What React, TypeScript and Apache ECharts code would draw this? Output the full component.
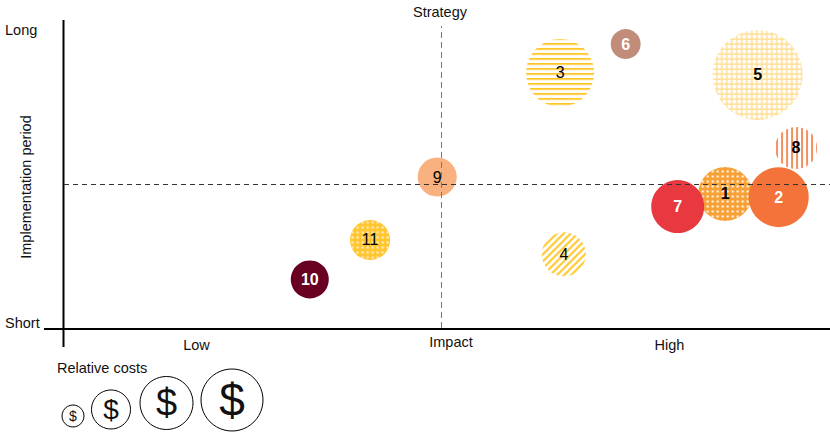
import React, { useEffect, useRef } from 'react';
import * as echarts from 'echarts';

// ---- data ----
const ids = ['1', '2', '3', '4', '5', '6', '7', '8', '9', '10', '11'];
const impact = [8.77, 9.48, 6.58, 6.63, 9.2, 7.45, 8.14, 9.71, 4.95, 3.26, 4.06];
const period = [4.66, 4.55, 8.87, 2.56, 8.8, 9.87, 4.22, 6.26, 5.25, 1.69, 3.06];
const relativeCost = [5.4, 6.0, 6.8, 4.4, 9.0, 3.0, 5.3, 4.2, 3.9, 3.8, 4.0];
const xTickLabels = ['Low', 'Impact', 'High'];
const yTickLabels = ['Short', 'Long'];
const legendCostLevels = ['$', '$', '$', '$'];

const FONT = "'Liberation Sans', Arial, Helvetica, sans-serif";
const SIZE_SCALE = 10;

function makeCanvas(w: number, h: number, draw: (ctx: CanvasRenderingContext2D) => void) {
  const c = document.createElement('canvas');
  c.width = w;
  c.height = h;
  const ctx = c.getContext('2d')!;
  draw(ctx);
  return c;
}
// scatter symbols are unit paths scaled by size/2, so the pattern is scaled back
function pat(c: HTMLCanvasElement, symbolSize: number) {
  const s = 2 / symbolSize;
  return { image: c, repeat: 'repeat', imageWidth: c.width, imageHeight: c.height, scaleX: s, scaleY: s } as any;
}
const dots = (bg: string) => (size: number) =>
  pat(makeCanvas(5, 5, (ctx) => {
    ctx.fillStyle = bg;
    ctx.fillRect(0, 0, 5, 5);
    ctx.fillStyle = '#ffffff';
    ctx.fillRect(1.5, 1.5, 2, 2);
  }), size);
const hStripes = (fg: string) => (size: number) =>
  pat(makeCanvas(5, 5, (ctx) => {
    ctx.fillStyle = '#ffffff';
    ctx.fillRect(0, 0, 5, 5);
    ctx.fillStyle = fg;
    ctx.fillRect(0, 0, 5, 2);
  }), size);
const vStripes = (fg: string) => (size: number) =>
  pat(makeCanvas(5, 5, (ctx) => {
    ctx.fillStyle = '#ffffff';
    ctx.fillRect(0, 0, 5, 5);
    ctx.fillStyle = fg;
    ctx.fillRect(0, 0, 2, 5);
  }), size);
const diag = (fg: string) => (size: number) =>
  pat(makeCanvas(7, 7, (ctx) => {
    ctx.fillStyle = '#ffffff';
    ctx.fillRect(0, 0, 7, 7);
    ctx.strokeStyle = fg;
    ctx.lineWidth = 2;
    ctx.beginPath();
    ctx.moveTo(0, 7); ctx.lineTo(7, 0);
    ctx.moveTo(-1, 1); ctx.lineTo(1, -1);
    ctx.moveTo(6, 8); ctx.lineTo(8, 6);
    ctx.stroke();
  }), size);
const grid = (fg: string) => (size: number) =>
  pat(makeCanvas(5, 5, (ctx) => {
    ctx.fillStyle = fg;
    ctx.fillRect(0, 0, 5, 5);
    ctx.fillStyle = '#ffffff';
    ctx.fillRect(0, 0, 3.4, 3.4);
  }), size);

export default function App() {
  const ref = useRef<HTMLDivElement>(null);
  useEffect(() => {
    document.body.style.margin = '0';
    const chart = echarts.init(ref.current!, null, { renderer: 'svg' });

    const fills: any[] = [
      dots('#F6A036'),
      '#F3733A',
      hStripes('#FFC629'),
      diag('#FFC629'),
      grid('#FFDF98'),
      '#C28C7A',
      '#E7393F',
      vStripes('#F3905F'),
      '#F9B27F',
      '#6A0021',
      dots('#FFC52C'),
    ];
    const labelColor = ['#000', '#fff', '#000', '#000', '#000', '#fff', '#fff', '#000', '#000', '#fff', '#000'];
    const labelWeight = ['bold', 'bold', 'normal', 'normal', 'bold', 'bold', 'bold', 'bold', 'normal', 'bold', 'normal'];

    const data = ids.map((id, i) => {
      const size = relativeCost[i] * SIZE_SCALE;
      const f = fills[i];
      return {
        name: id,
        value: [impact[i], period[i], relativeCost[i]],
        itemStyle: { color: typeof f === 'function' ? f(size) : f, opacity: 1 },
        label: { color: labelColor[i], fontWeight: labelWeight[i] },
      };
    });

    const txt = (text: string, x: number, y: number, extra: any = {}) => ({
      type: 'text',
      x,
      y,
      silent: true,
      ...extra,
      style: {
        text,
        fill: '#111',
        fontSize: 14.5,
        fontFamily: FONT,
        align: 'center',
        verticalAlign: 'middle',
        ...(extra.style || {}),
      },
    });

    const legendCircles = [
      { cx: 73, cy: 416, r: 11, fs: 14 },
      { cx: 111, cy: 409.5, r: 19.5, fs: 28 },
      { cx: 166.5, cy: 403, r: 26.5, fs: 38 },
      { cx: 232, cy: 400, r: 31, fs: 46 },
    ];

    const graphics: any[] = [
      { type: 'line', silent: true, shape: { x1: 63.5, y1: 20, x2: 63.5, y2: 347 }, style: { stroke: '#000', lineWidth: 2 } },
      { type: 'line', silent: true, shape: { x1: 44, y1: 329, x2: 830, y2: 329 }, style: { stroke: '#000', lineWidth: 2 } },
      txt(yTickLabels[1], 5, 30, { style: { align: 'left' } }),
      txt(yTickLabels[0], 5, 323, { style: { align: 'left' } }),
      txt('Implementation period', 26, 187, { rotation: Math.PI / 2 }),
      txt('Strategy', 440, 12),
      txt(xTickLabels[0], 196.5, 344.5),
      txt(xTickLabels[1], 451, 342),
      txt(xTickLabels[2], 669.5, 344.5),
      txt('Relative costs', 57, 368, { style: { align: 'left' } }),
      ...legendCircles.flatMap((c, i) => [
        { type: 'circle', silent: true, shape: { cx: c.cx, cy: c.cy, r: c.r }, style: { fill: '#fff', stroke: '#000', lineWidth: 1 } },
        txt(legendCostLevels[i], c.cx, c.cy, { style: { fontSize: c.fs } }),
      ]),
    ];

    chart.setOption({
      animation: false,
      grid: { left: 64, right: 0, top: 26, bottom: 105, containLabel: false },
      xAxis: { type: 'value', min: 0, max: 10.16, show: false, splitLine: { show: false } },
      yAxis: { type: 'value', min: 0, max: 10.5, show: false, splitLine: { show: false } },
      graphic: graphics,
      series: [
        {
          type: 'scatter',
          clip: false,
          silent: true,
          data,
          symbol: 'circle',
          symbolSize: (v: number[]) => v[2] * SIZE_SCALE,
          emphasis: { disabled: true },
          label: {
            show: true,
            position: 'inside',
            formatter: '{b}',
            fontSize: 16,
            fontFamily: FONT,
          },
          markLine: {
            silent: true,
            symbol: 'none',
            label: { show: false },
            data: [
              { xAxis: 5, lineStyle: { color: '#777', width: 1, type: [6, 4] } },
              { yAxis: 5, lineStyle: { color: '#333', width: 1, type: [5, 4] } },
            ],
          },
        },
      ],
    });
    return () => chart.dispose();
  }, []);
  return <div ref={ref} style={{ width: 830, height: 433 }} />;
}
